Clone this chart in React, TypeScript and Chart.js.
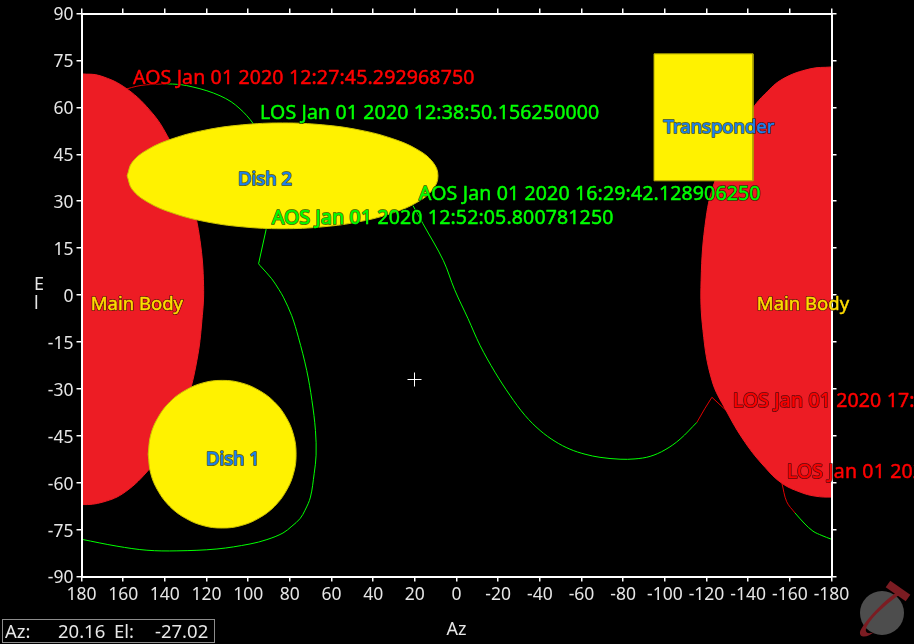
import React, { useEffect, useRef } from "react";
import { Chart, registerables } from "chart.js";

Chart.register(...registerables);

const FONT = '"Noto Sans"';
const TICK_SIZE = 17.5;

const azTickStep = 20;
const elTickStep = 15;
const azTitle = "Az";
const elTitleLetters = ["E", "l"];
const cursorAz = [20.16];
const cursorEl = [-27.02];

const mainBodyLeftAz = [180, 171.1, 158.2, 145.7, 138, 131.8, 127, 123.1, 121.4, 122.2, 124.6, 129.4, 137.5, 147.1, 159.1, 169.7, 180, 192, 210, 225, 210, 192, 180];
const mainBodyLeftEl = [70.7, 70.1, 65.9, 57.9, 49.9, 41.3, 30.2, 17.4, 3, -8.1, -20.9, -33.7, -46.5, -55.4, -63, -66.2, -67, -66, -50, 0, 55, 70, 70.7];

const mainBodyRightAz = [-180, -169.7, -156.7, -148.1, -142.3, -133.7, -124.1, -119.8, -117.4, -118.3, -122.6, -129.4, -138.5, -148.1, -156.2, -164.9, -172.1, -180, -192, -210, -225, -210, -192, -180];
const mainBodyRightEl = [72.9, 72.3, 69.1, 64.3, 59.8, 50.9, 36.5, 24.7, 4.6, -11.3, -27.3, -36.9, -47.1, -55.1, -60.2, -63, -64.3, -64.6, -64, -50, 0, 55, 72.5, 72.9];

const dish1Az = [148, 146.8, 143.2, 137.6, 130.25, 121.7, 112.5, 103.3, 94.75, 87.4, 81.8, 78.2, 77, 78.2, 81.8, 87.4, 94.75, 103.3, 112.5, 121.7, 130.25, 137.6, 143.2, 146.8, 148];
const dish1El = [-50.9, -44.8, -39.1, -34.2, -30.5, -28.1, -27.3, -28.1, -30.5, -34.2, -39.1, -44.8, -50.9, -57, -62.7, -67.6, -71.3, -73.7, -74.5, -73.7, -71.3, -67.6, -62.7, -57, -50.9];

const dish2Az = [158.1, 155.6, 148.1, 136.2, 120.8, 102.8, 83.5, 64.2, 46.2, 30.8, 18.9, 11.4, 8.9, 11.4, 18.9, 30.8, 46.2, 64.2, 83.5, 102.8, 120.8, 136.2, 148.1, 155.6, 158.1];
const dish2El = [38.1, 42.5, 46.55, 50, 52.7, 54.4, 55, 54.4, 52.7, 50, 46.55, 42.5, 38.1, 33.7, 29.65, 26.2, 23.5, 21.8, 21.2, 21.8, 23.5, 26.2, 29.65, 33.7, 38.1];

const transponderAz = [-94.8, -142.3, -142.3, -94.8, -94.8];
const transponderEl = [77.1, 77.1, 36.5, 36.5, 77.1];

const passRed1Az = [158.2, 153.8, 149, 139.9];
const passRed1El = [65.9, 66.7, 67.2, 67.5];
const passGreen1Az = [139.9, 132.7, 126.5, 119.8, 113.5, 108.2, 103.9, 100.6, 97.7, 95];
const passGreen1El = [67.5, 67.3, 66.5, 65.3, 63.7, 61.8, 59.5, 57.3, 54.9, 52];
const passGreen2aAz = [92, 91.4, 95, 94.3];
const passGreen2aEl = [24, 20.9, 10, 9.4];
const passGreen2bAz = [94.3, 88.7, 85.2, 83.1, 79.1, 75.9, 71.9, 69.4, 67.7, 67.4, 68.3, 70.1, 72.7, 75.1, 79, 83.3, 91, 99.1, 115, 134.2, 148.6, 163, 180];
const passGreen2bEl = [9.4, 5.2, 1.7, -0.7, -6.6, -13.5, -24.1, -33.7, -43.3, -51.2, -57, -64.6, -68.8, -71.5, -73.9, -76.1, -78.2, -79.6, -81.2, -81.8, -81.6, -80.3, -78.1];
const passGreen3Az = [20.9, 16.1, 6.3, 0.9, -5.5, -11.3, -18.5, -25.7, -32.9, -40.1, -47.3, -54.5, -61.7, -68.9, -78.5, -85.7, -92.9, -100.1, -107.3, -115.4];
const passGreen3El = [28.6, 22.8, 11, 1.7, -7.5, -16.1, -24.7, -32.1, -38.5, -43.3, -46.8, -49.3, -50.9, -51.9, -52.5, -52.4, -51.6, -49.5, -46.1, -40.7];
const passRed2Az = [-115.4, -119.3, -122.6, -129.4];
const passRed2El = [-40.7, -36.2, -32.7, -36.9];
const passRed3Az = [-156.2, -158.5, -162.5];
const passRed3El = [-60.2, -66.1, -69.7];
const passGreen4Az = [-162.5, -166.8, -171.1, -175.4, -180];
const passGreen4El = [-69.7, -72.9, -75.5, -76.9, -78.1];

const eventTexts = [
  "AOS Jan 01 2020 12:27:45.292968750",
  "LOS Jan 01 2020 12:38:50.156250000",
  "AOS Jan 01 2020 16:29:42.128906250",
  "AOS Jan 01 2020 12:52:05.800781250",
  "LOS Jan 01 2020 17:04:21.445312500",
  "LOS Jan 01 2020 13:02:11.718750000",
];
const eventAz = [155.3, 94.3, 18, 88.6, -132.7, -158.6];
const eventEl = [69.1, 57.9, 32.1, 24.4, -34, -56.7];
const eventColors = ["#ff0000", "#00ff00", "#00ff00", "#00ff00", "#ff0000", "#ff0000"];

const maskTexts = ["Main Body", "Main Body", "Dish 1", "Dish 2", "Transponder"];
const maskTextAz = [153.4, -166.3, 107.3, 91.9, -126];
const maskTextEl = [-3, -3, -52.8, 36.9, 53.5];
const maskTextColors = ["#ffdc00", "#ffdc00", "#1e82f0", "#1e82f0", "#1e82f0"];

const RED = "#ed1c24";
const YELLOW = "#fff200";
const GREEN = "#00ff00";
const LINE_RED = "#e00000";

const xy = (az: number[], el: number[]) => az.map((a, i) => ({ x: a, y: el[i] }));

const mask = (az: number[], el: number[], color: string, order: number, tension: number, edge: string) => ({
  data: xy(az, el),
  showLine: true,
  fill: "shape",
  backgroundColor: color,
  borderColor: edge,
  borderWidth: 1,
  pointRadius: 0,
  tension,
  order,
});

const pass = (az: number[], el: number[], color: string, tension = 0.35) => ({
  data: xy(az, el),
  showLine: true,
  fill: false,
  borderColor: color,
  borderWidth: 1,
  pointRadius: 0,
  tension,
  order: 5,
});

const labelPlugin = {
  id: "labels",
  afterDraw(chart: any) {
    const { ctx, scales } = chart;
    const put = (t: string, x: number, y: number, color: string, align: CanvasTextAlign, size: number, spacing: string) => {
      ctx.font = `${size}px ${FONT}`;
      ctx.letterSpacing = spacing;
      ctx.textAlign = align;
      ctx.textBaseline = "middle";
      ctx.lineJoin = "round";
      ctx.lineWidth = 2;
      ctx.strokeStyle = "rgba(0,0,0,0.6)";
      ctx.strokeText(t, x, y);
      ctx.lineWidth = 0.5;
      ctx.strokeStyle = color;
      ctx.strokeText(t, x, y);
      ctx.fillStyle = color;
      ctx.fillText(t, x, y);
    };
    ctx.save();
    maskTexts.forEach((t, i) =>
      put(t, scales.x.getPixelForValue(maskTextAz[i]), scales.y.getPixelForValue(maskTextEl[i]), maskTextColors[i], "center", 18.5, "0px")
    );
    eventTexts.forEach((t, i) =>
      put(t, scales.x.getPixelForValue(eventAz[i]), scales.y.getPixelForValue(eventEl[i]), eventColors[i], "left", 19.5, "0.15px")
    );
    ctx.letterSpacing = "0px";
    ctx.font = `18px ${FONT}`;
    ctx.textAlign = "left";
    ctx.textBaseline = "middle";
    ctx.fillStyle = "#e6e6e6";
    ctx.fillText(elTitleLetters[0], 34, 285);
    ctx.fillText(elTitleLetters[1], 34, 304);
    ctx.restore();
  },
};

const spine = { color: "#ffffff", width: 2, z: 1 };
const grid = { drawOnChartArea: false, drawTicks: true, tickLength: 5, color: "#ffffff", lineWidth: 1.5, z: 1 };

export default function App() {
  const ref = useRef<HTMLCanvasElement>(null);
  useEffect(() => {
    document.body.style.margin = "0";
    document.body.style.background = "#000";
    const tickFont = { family: FONT, size: TICK_SIZE };
    const chart = new Chart(ref.current as HTMLCanvasElement, {
      type: "scatter",
      plugins: [labelPlugin],
      data: {
        datasets: [
          {
            data: xy(cursorAz, cursorEl),
            pointStyle: "cross",
            pointRadius: 7,
            pointBorderColor: "#ffffff",
            pointBorderWidth: 1,
            order: 0,
          },
          mask(transponderAz, transponderEl, YELLOW, 1, 0, "#b0a800"),
          mask(dish2Az, dish2El, YELLOW, 1, 0.4, "#cfc400"),
          mask(dish1Az, dish1El, YELLOW, 1, 0.4, "#cfc400"),
          mask(mainBodyLeftAz, mainBodyLeftEl, RED, 2, 0.4, RED),
          mask(mainBodyRightAz, mainBodyRightEl, RED, 2, 0.4, RED),
          pass(passRed1Az, passRed1El, LINE_RED),
          pass(passGreen1Az, passGreen1El, GREEN),
          pass(passGreen2aAz, passGreen2aEl, GREEN, 0),
          pass(passGreen2bAz, passGreen2bEl, GREEN),
          pass(passGreen3Az, passGreen3El, GREEN),
          pass(passRed2Az, passRed2El, LINE_RED, 0),
          pass(passRed3Az, passRed3El, LINE_RED),
          pass(passGreen4Az, passGreen4El, GREEN),
        ],
      } as any,
      options: {
        animation: false,
        responsive: false,
        devicePixelRatio: 1,
        layout: { padding: 0 },
        plugins: { legend: { display: false }, tooltip: { enabled: false } },
        scales: {
          x: {
            type: "linear",
            position: "bottom",
            reverse: true,
            min: -180,
            max: 180,
            afterFit: (s: any) => { s.height = 67.5; },
            border: spine,
            grid,
            ticks: { stepSize: azTickStep, autoSkip: false, maxRotation: 0, color: "#e6e6e6", font: tickFont, padding: 3 },
            title: { display: true, text: azTitle, color: "#e6e6e6", font: { family: FONT, size: 18 }, padding: { top: 0, bottom: 3 } },
          },
          y: {
            type: "linear",
            position: "left",
            min: -90,
            max: 90,
            afterFit: (s: any) => { s.width = 81.5; },
            border: spine,
            grid,
            ticks: { stepSize: elTickStep, autoSkip: false, color: "#e6e6e6", font: tickFont, padding: 3, labelOffset: 2 },
          },
          xTop: {
            type: "linear",
            position: "top",
            reverse: true,
            min: -180,
            max: 180,
            afterFit: (s: any) => { s.height = 12.5; },
            border: spine,
            grid,
            ticks: { stepSize: azTickStep, autoSkip: false, display: false },
          },
          yRight: {
            type: "linear",
            position: "right",
            min: -90,
            max: 90,
            afterFit: (s: any) => { s.width = 82.5; },
            border: spine,
            grid,
            ticks: { stepSize: elTickStep, autoSkip: false, display: false },
          },
        },
      } as any,
    });
    return () => chart.destroy();
  }, []);

  return (
    <div style={{ position: "fixed", left: 0, top: 0, width: 914, height: 644, background: "#000", overflow: "hidden" }}>
      <canvas ref={ref} width={914} height={644} style={{ display: "block", width: 914, height: 644 }} />
      <div
        style={{
          position: "absolute", left: 2, top: 619, width: 211, height: 22,
          border: "1px solid #8c8c8c", color: "#e6e6e6", fontFamily: FONT, fontSize: 18.5,
          lineHeight: "22px", whiteSpace: "pre",
        }}
      >
        <span style={{ position: "absolute", left: 2 }}>Az:</span>
        <span style={{ position: "absolute", left: 55 }}>{cursorAz[0].toFixed(2)}</span>
        <span style={{ position: "absolute", left: 111 }}>El:</span>
        <span style={{ position: "absolute", left: 152 }}>{cursorEl[0].toFixed(2)}</span>
      </div>
      <svg width={914} height={644} style={{ position: "absolute", left: 0, top: 0, pointerEvents: "none" }}>
        <circle cx={882} cy={613} r={22} fill="#4d4d4d" />
        <line x1={888} y1={584} x2={908} y2={598} stroke="#7b1c22" strokeWidth={8} />
        <path d="M900 590 C880 603 862 625 860 632 C859 639 869 637 874 632 C867 635 864 632 867 626 C873 615 890 601 902 593 Z" fill="#7b1c22" />
      </svg>
    </div>
  );
}
